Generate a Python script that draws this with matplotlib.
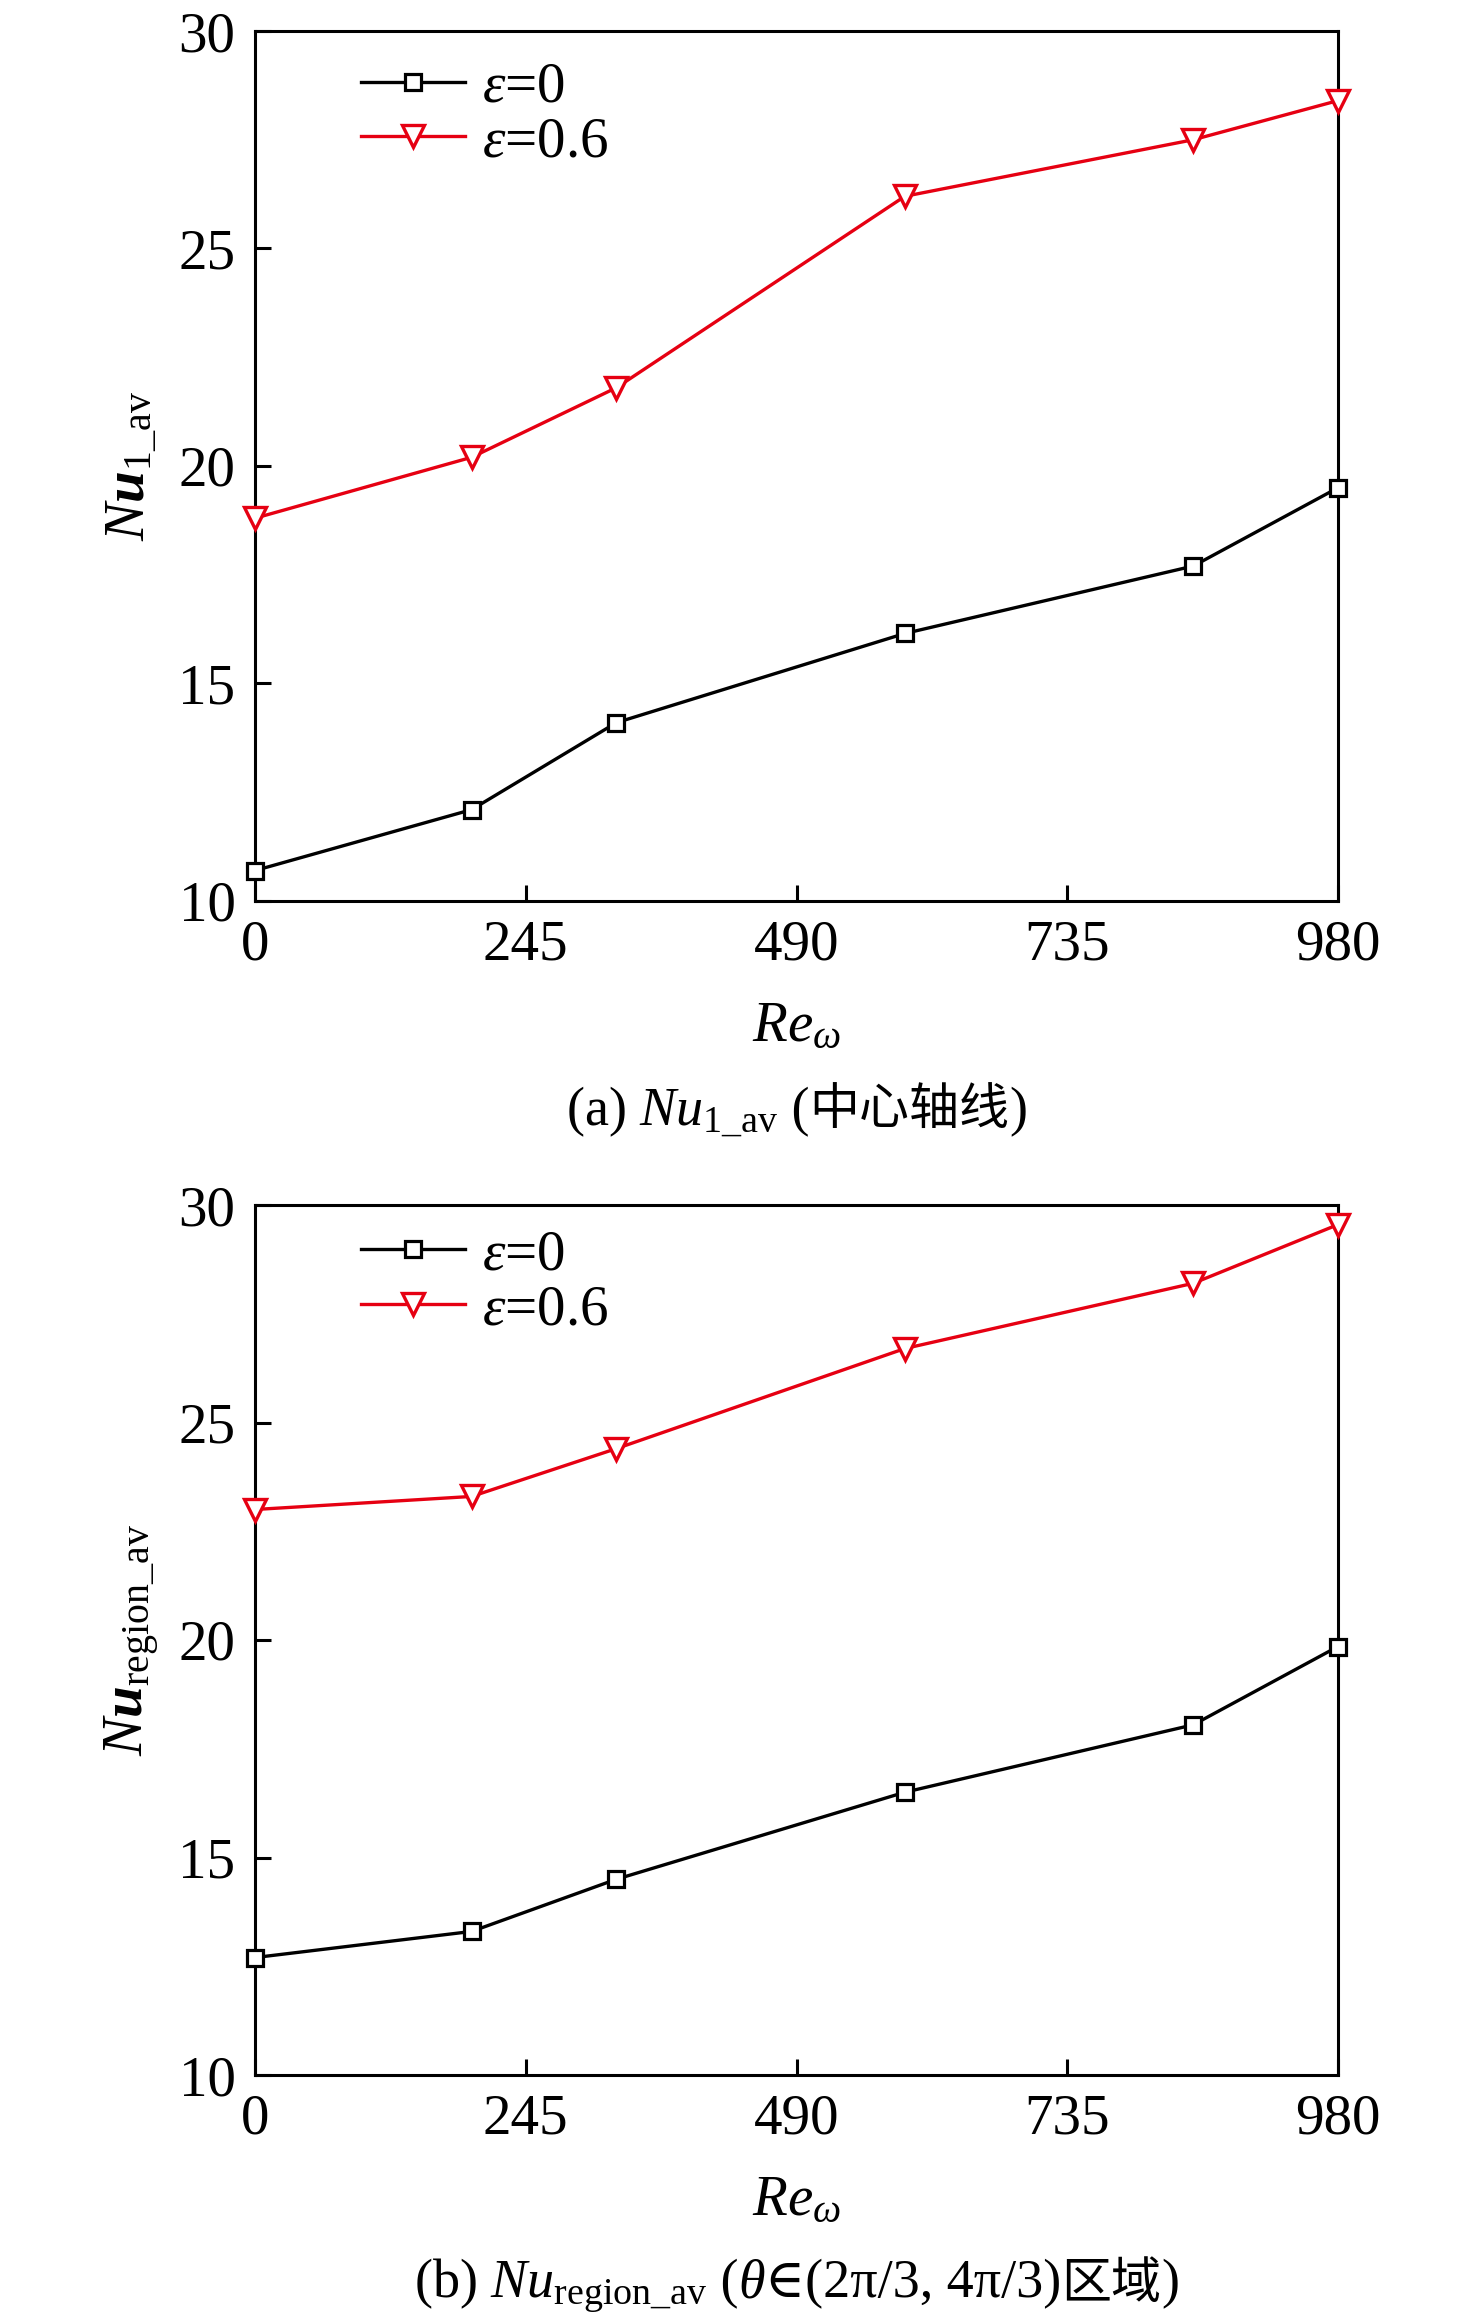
import matplotlib
matplotlib.use("Agg")
import matplotlib.pyplot as plt
from matplotlib.offsetbox import TextArea, HPacker, AnnotationBbox

# ---------------- data ----------------
re_omega = [0, 196, 327, 588, 849, 980]
nu_line_eps0 = [10.7, 12.1, 14.1, 16.15, 17.7, 19.5]
nu_line_eps06 = [18.8, 20.2, 21.8, 26.2, 27.5, 28.4]
nu_region_eps0 = [12.7, 13.3, 14.5, 16.5, 18.05, 19.85]
nu_region_eps06 = [23.0, 23.3, 24.4, 26.7, 28.2, 29.55]
xticks = [0, 245, 490, 735, 980]
yticks = [10, 15, 20, 25, 30]
legend_labels = [r"$\varepsilon$=0", r"$\varepsilon$=0.6"]

SERIF = ["Liberation Serif", "DejaVu Serif", "Noto Sans CJK SC"]
CJK = ["Noto Sans CJK SC", "Liberation Serif"]
plt.rcParams["font.family"] = SERIF
plt.rcParams["mathtext.fontset"] = "custom"
plt.rcParams["mathtext.rm"] = "Liberation Serif"
plt.rcParams["mathtext.it"] = "Liberation Serif:italic"
plt.rcParams["mathtext.bf"] = "Liberation Serif:bold"
try:
    plt.rcParams["mathtext.bfit"] = "Liberation Serif:italic:bold"
    BFIT = r"\mathbfit"
except KeyError:
    BFIT = r"\mathit"

W, H = 1476, 2320
fig = plt.figure(figsize=(W / 100, H / 100), dpi=100)

RED = "#e60012"
FS = 41
CAP_FS = 39

ax_left, ax_right = 255, 1338
ax_h = 870
tops = [31, 1205]


def make_axes(top):
    return fig.add_axes([ax_left / W, 1 - (top + ax_h) / H,
                         (ax_right - ax_left) / W, ax_h / H])


def style(ax):
    ax.set_xlim(0, 980)
    ax.set_ylim(10, 30)
    ax.set_xticks(xticks)
    ax.set_yticks(yticks)
    for s in ax.spines.values():
        s.set_linewidth(2.2)
    ax.tick_params(direction="in", length=11.5, width=2.2, labelsize=FS)
    ax.tick_params(axis="x", pad=13)
    ax.tick_params(axis="y", pad=14)


def draw(ax, y0, y6, leg_y):
    ax.plot(re_omega, y0, color="black", lw=2.4, marker="s", ms=11.5,
            mfc="white", mec="black", mew=2.3, label=legend_labels[0],
            clip_on=False, zorder=3)
    ax.plot(re_omega, y6, color=RED, lw=2.4, marker="v", ms=16,
            mfc="white", mec=RED, mew=2.4, label=legend_labels[1],
            clip_on=False, zorder=3)
    ax.legend(loc="upper left", bbox_to_anchor=(0.098, leg_y), frameon=False,
              borderaxespad=0, borderpad=0, handlelength=1.83,
              handletextpad=0.3, labelspacing=0.05, fontsize=FS)


ax1 = make_axes(tops[0])
style(ax1)
draw(ax1, nu_line_eps0, nu_line_eps06, 0.965)

ax2 = make_axes(tops[1])
style(ax2)
draw(ax2, nu_region_eps0, nu_region_eps06, 0.972)

xc = (ax_left + ax_right) / 2

# x labels
for top in tops:
    bottom = top + ax_h
    fig.text(xc / W, 1 - (bottom + 140) / H, r"$Re_{\omega}$", fontsize=FS,
             ha="center", va="baseline")

# y labels
ylabels = [r"$\mathit{N}" + BFIT + r"{u}_{\mathrm{1\_av}}$",
           r"$\mathit{N}" + BFIT + r"{u}_{\mathrm{region\_av}}$"]
for lab, top in zip(ylabels, tops):
    fig.text(132 / W, 1 - (top + ax_h / 2) / H, lab,
             fontsize=FS, rotation=90, ha="center", va="center")

# captions
tp = dict(fontsize=CAP_FS, family=SERIF)
tpi = dict(fontsize=CAP_FS, family=SERIF, style="italic")
tpc = dict(fontsize=36, family=CJK)

cap_a = HPacker(children=[
    TextArea(r"(a) $\mathit{Nu}_{\mathrm{1\_av}}$", textprops=tp),
    TextArea(" (", textprops=tp),
    TextArea("中心轴线", textprops=tpc),
    TextArea(")", textprops=tp),
], align="baseline", pad=0, sep=0)

cap_b = HPacker(children=[
    TextArea(r"(b) $\mathit{Nu}_{\mathrm{region\_av}}$", textprops=tp),
    TextArea(" (", textprops=tp),
    TextArea("θ", textprops=tpi),
    TextArea("∈(2π/3, 4π/3)", textprops=tp),
    TextArea("区域", textprops=tpc),
    TextArea(")", textprops=tp),
], align="baseline", pad=0, sep=0)

for cap, top in zip([cap_a, cap_b], tops):
    bottom = top + ax_h
    ab = AnnotationBbox(cap, (xc, H - (bottom + 211)), xycoords="figure pixels",
                        box_alignment=(0.5, 0.5), frameon=False, pad=0)
    fig.add_artist(ab)

fig.savefig("out.png", dpi=100)
